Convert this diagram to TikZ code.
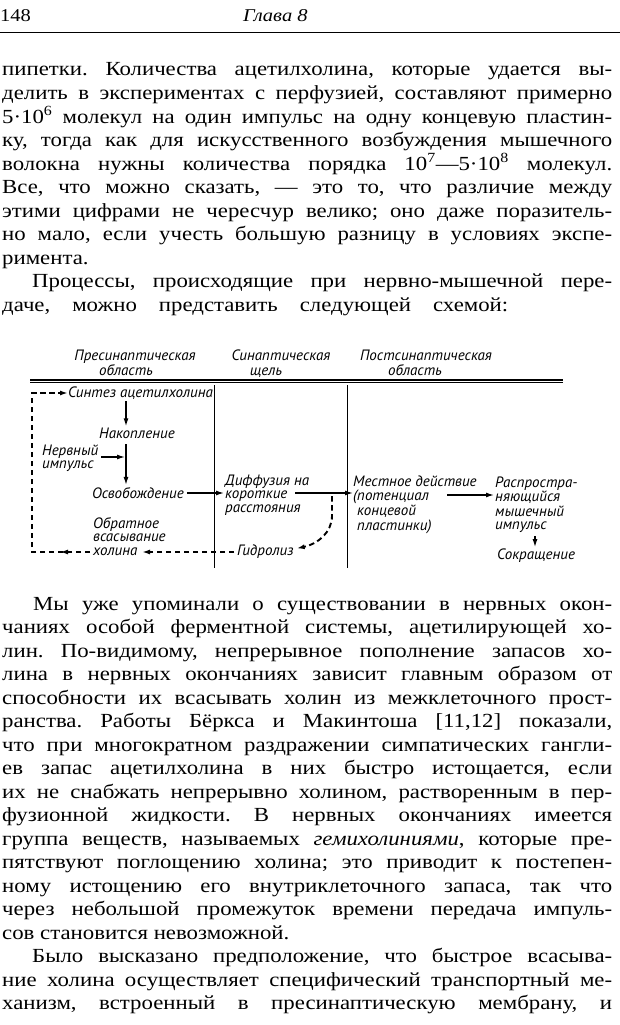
\documentclass[tikz,border=0pt]{standalone}
\usepackage{fontspec}
\setmainfont{Liberation Serif}[FakeStretch=1.14]
\newfontfamily\dgfont{PT Sans}
\usetikzlibrary{arrows.meta,decorations.markings}
\newcommand\jl[2]{\makebox[#1][s]{#2}}
\newcommand\ml[1]{\begin{tabular}[t]{@{}l@{}}#1\end{tabular}}
\tikzset{
 body/.style={anchor=base west, inner sep=0pt, font=\fontsize{20}{23.5}\selectfont},
 dg/.style={anchor=base west, inner sep=0pt, font=\dgfont\itshape\fontsize{15}{13.5}\selectfont},
 hd/.style={dg, anchor=base},
 arr/.style={-{Latex[length=8pt,width=5pt]}, line width=1.3pt},
 darr/.style={arr, line width=1.9pt, dash pattern=on 5.5pt off 3.5pt},
}
\begin{document}
\frenchspacing
\begin{tikzpicture}[x=1pt,y=-1pt]
\useasboundingbox (0,0) rectangle (620,1025);
\fill[white] (0,0) rectangle (620,1025);
% running head
\node[body, font=\fontsize{18}{20}\selectfont] (pg) at (0,22) {148};
\node[body, font=\fontsize{18}{20}\selectfont\itshape] (ch) at (243,22) {Глава 8};
\draw[line width=1pt] (0,33) -- (620,33);
% text above the scheme
\node[body] (t1) at (2,76) {\jl{610pt}{пипетки. Количества ацетилхолина, которые удается вы-}};
\node[body] (t2) at (2,99.5) {\jl{610pt}{делить в экспериментах с перфузией, составляют примерно}};
\node[body] (t3) at (2,123) {\jl{610pt}{5·10\textsuperscript{6} молекул на один импульс на одну концевую пластин-}};
\node[body] (t4) at (2,146.5) {\jl{610pt}{ку, тогда как для искусственного возбуждения мышечного}};
\node[body] (t5) at (2,170) {\jl{610pt}{волокна нужны количества порядка 10\textsuperscript{7}—5·10\textsuperscript{8} молекул.}};
\node[body] (t6) at (2,193.5) {\jl{610pt}{Все, что можно сказать, — это то, что различие между}};
\node[body] (t7) at (2,217) {\jl{610pt}{этими цифрами не чересчур велико; оно даже поразитель-}};
\node[body] (t8) at (2,240.5) {\jl{610pt}{но мало, если учесть большую разницу в условиях экспе-}};
\node[body] (t9) at (2,264) {римента.};
\node[body] (t10) at (32,287.5) {\jl{580pt}{Процессы, происходящие при нервно-мышечной пере-}};
\node[body] (t11) at (2,311) {\jl{506pt}{даче, можно представить следующей схемой:}};
% scheme: headings and frame
\node[hd] (h1a) at (135,360) {Пресинаптическая};
\node[hd] (h1b) at (126,375) {область};
\node[hd] (h2a) at (281,360) {Синаптическая};
\node[hd] (h2b) at (266,375) {щель};
\node[hd] (h3a) at (426,360) {Постсинаптическая};
\node[hd] (h3b) at (415,375) {область};
\draw[line width=1.8pt] (30,380.2) -- (563,380.2);
\draw[line width=0.8pt] (30,382.8) -- (563,382.8);
\draw[line width=1pt] (214,385) -- (214,568);
\draw[line width=1pt] (347,385) -- (347,568);
% scheme: nodes
\node[dg] (syn) at (68,397) {Синтез ацетилхолина};
\node[dg] (nak) at (99,438) {Накопление};
\node[dg] (nerv) at (42,455) {\ml{Нервный\\импульс}};
\node[dg] (osv) at (92,498) {Освобождение};
\node[dg] (diff) at (225,485) {\ml{Диффузия на\\короткие\\расстояния}};
\node[dg] (mest) at (353,486) {\ml{Местное действие\\(потенциал\\\phantom{(}концевой\\\phantom{(}пластинки)}};
\node[dg] (rasp) at (495,487) {\ml{Распростра-\\няющийся\\мышечный\\импульс}};
\node[dg] (sokr) at (497,559) {Сокращение};
\node[dg] (gidr) at (237,555) {Гидролиз};
\node[dg] (obr) at (93,528) {\ml{Обратное\\всасывание\\холина}};
% helper coordinates
\coordinate (cx) at (126,0);
\coordinate (c535) at (535,0);
\coordinate (r457) at (0,457);
\coordinate (r493) at (0,493);
\coordinate (r495) at (0,495);
\coordinate (r549) at (0,549);
\coordinate (cBL) at (32,552);
\coordinate (cTL) at (32,393);
\coordinate (kE) at (295,493);
\coordinate (br) at (332,496);
\coordinate (bv) at (332,516);
\coordinate (m6) at (447,495);
\coordinate (holE) at (142,552);
% scheme: connectors
\draw[arr, shorten <=2pt, shorten >=1pt] (syn.south -| cx) -- (nak.north -| cx);
\draw[arr, shorten <=6pt, shorten >=2pt] (nak.south -| cx) -- (osv.north -| cx);
\draw[arr, shorten <=3pt, shorten >=1pt] (nerv.east |- r457) -- (cx |- r457);
\draw[arr, shorten <=3pt, shorten >=1pt] (osv.east |- r493) -- (diff.west |- r493);
\draw[arr] (kE) -- (mest.west |- r493);
\draw[arr, shorten >=1pt] (m6) -- (rasp.west |- r495);
\draw[arr, shorten <=2pt, shorten >=1pt] (rasp.south -| c535) -- (sokr.north -| c535);
\draw[darr, shorten >=3pt] (br) -- (bv) .. controls (332,532) and (318,544) .. (gidr.east |- r549);
\draw[darr, shorten <=3pt] (gidr.west |- cBL) -- (holE);
\draw[darr, shorten <=3pt, postaction={decorate}, decoration={markings, mark=at position 33pt with {\arrow{Latex[length=8pt,width=5pt]}}}] (obr.west |- cBL) -- (cBL) -- (cTL) -- (syn.west |- cTL);
% text below the scheme
\node[body] (b1) at (33,610) {\jl{579pt}{Мы уже упоминали о существовании в нервных окон-}};
\node[body] (b2) at (2,633.5) {\jl{610pt}{чаниях особой ферментной системы, ацетилирующей хо-}};
\node[body] (b3) at (2,657) {\jl{610pt}{лин. По-видимому, непрерывное пополнение запасов хо-}};
\node[body] (b4) at (2,680.5) {\jl{610pt}{лина в нервных окончаниях зависит главным образом от}};
\node[body] (b5) at (2,704) {\jl{610pt}{способности их всасывать холин из межклеточного прост-}};
\node[body] (b6) at (2,727.5) {\jl{610pt}{ранства. Работы Бёркса и Макинтоша [11,12] показали,}};
\node[body] (b7) at (2,751) {\jl{610pt}{что при многократном раздражении симпатических гангли-}};
\node[body] (b8) at (2,774.5) {\jl{610pt}{ев запас ацетилхолина в них быстро истощается, если}};
\node[body] (b9) at (2,798) {\jl{610pt}{их не снабжать непрерывно холином, растворенным в пер-}};
\node[body] (b10) at (2,821.5) {\jl{610pt}{фузионной жидкости. В нервных окончаниях имеется}};
\node[body] (b11) at (2,845) {\jl{610pt}{группа веществ, называемых \textit{гемихолиниями}, которые пре-}};
\node[body] (b12) at (2,868.5) {\jl{610pt}{пятствуют поглощению холина; это приводит к постепен-}};
\node[body] (b13) at (2,892) {\jl{610pt}{ному истощению его внутриклеточного запаса, так что}};
\node[body] (b14) at (2,915.5) {\jl{610pt}{через небольшой промежуток времени передача импуль-}};
\node[body] (b15) at (2,939) {сов становится невозможной.};
\node[body] (b16) at (32,962.5) {\jl{580pt}{Было высказано предположение, что быстрое всасыва-}};
\node[body] (b17) at (2,986) {\jl{610pt}{ние холина осуществляет специфический транспортный ме-}};
\node[body] (b18) at (2,1009.5) {\jl{610pt}{ханизм, встроенный в пресинаптическую мембрану, и}};
\end{tikzpicture}
\end{document}
